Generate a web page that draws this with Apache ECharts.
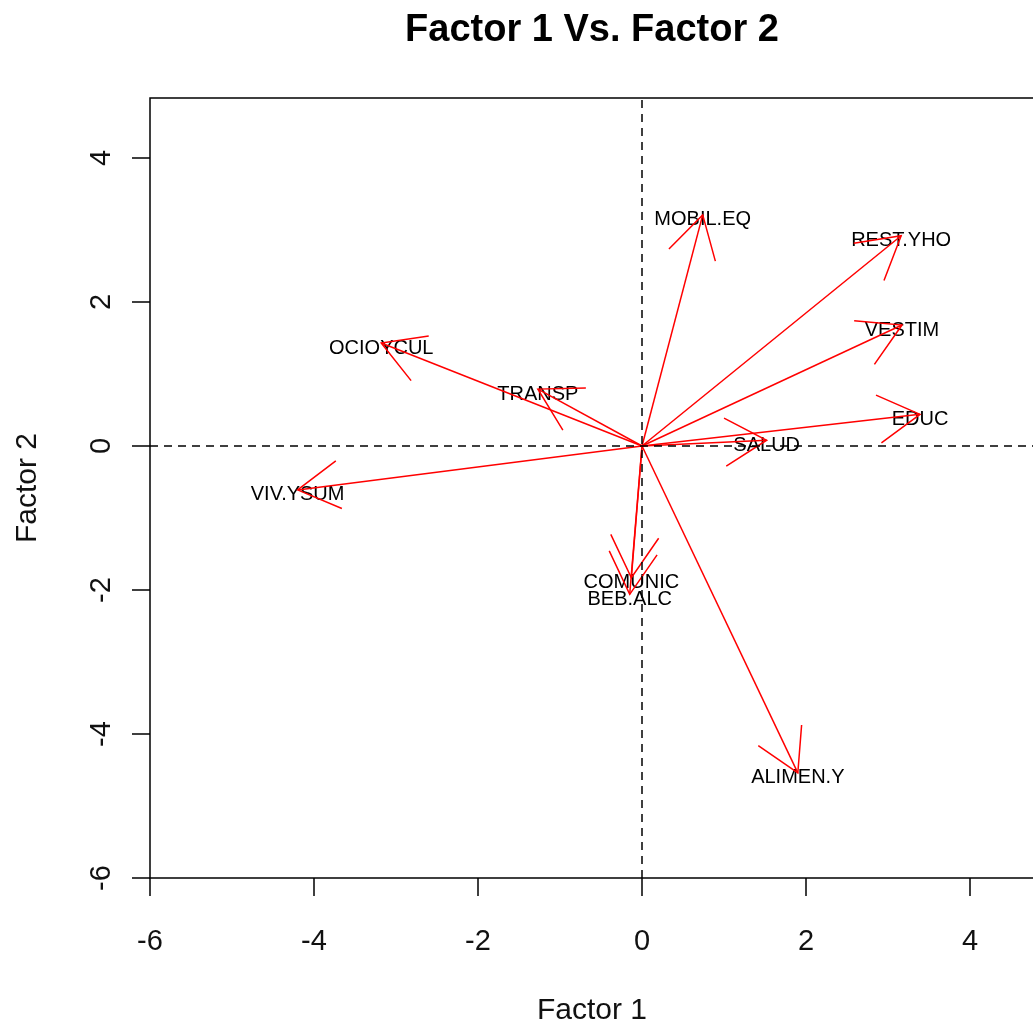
<!DOCTYPE html>
<html>
<head>
<meta charset="utf-8">
<script src="https://cdn.jsdelivr.net/npm/echarts@6/dist/echarts.min.js"></script>
<style>
  html, body { margin: 0; padding: 0; background: #fff; }
  #chart { width: 1033px; height: 1025px; }
</style>
</head>
<body>
<div id="chart"></div>
<script>
// Variable loadings on the first two factors
const variables = ['MOBIL.EQ', 'REST.YHO', 'VESTIM', 'EDUC', 'SALUD', 'OCIOYCUL',
                   'TRANSP', 'VIV.YSUM', 'COMUNIC', 'BEB.ALC', 'ALIMEN.Y'];
const factor1 = [0.74, 3.16, 3.17, 3.39, 1.52, -3.18, -1.27, -4.20, -0.13, -0.15, 1.90];
const factor2 = [3.21, 2.92, 1.68, 0.44, 0.08, 1.43, 0.79, -0.61, -1.83, -2.06, -4.54];

const xTicks = [-6, -4, -2, 0, 2, 4];
const yTicks = [-6, -4, -2, 0, 2, 4];

const FONT = '"Liberation Sans", Arial, sans-serif';
const points = variables.map((name, i) => [factor1[i], factor2[i], name]);

const HEAD_LEN = 48;
const HEAD_ANGLE = Math.PI / 6;

function renderArrow(params, api) {
  const o = api.coord([0, 0]);
  const t = api.coord([api.value(0), api.value(1)]);
  const ang = Math.atan2(o[1] - t[1], o[0] - t[0]);
  const h1 = [t[0] + HEAD_LEN * Math.cos(ang + HEAD_ANGLE), t[1] + HEAD_LEN * Math.sin(ang + HEAD_ANGLE)];
  const h2 = [t[0] + HEAD_LEN * Math.cos(ang - HEAD_ANGLE), t[1] + HEAD_LEN * Math.sin(ang - HEAD_ANGLE)];
  const style = { stroke: '#ff0000', lineWidth: 1.5, fill: null };
  return {
    type: 'group',
    children: [
      { type: 'line', shape: { x1: o[0], y1: o[1], x2: t[0], y2: t[1] }, style: style },
      { type: 'polyline', shape: { points: [h1, t, h2] }, style: style }
    ]
  };
}

function renderLabel(params, api) {
  const t = api.coord([api.value(0), api.value(1)]);
  return {
    type: 'text',
    x: t[0],
    y: t[1] + 5,
    style: {
      text: variables[params.dataIndex],
      align: 'center',
      verticalAlign: 'middle',
      font: '20px ' + FONT,
      fill: '#000'
    }
  };
}

const chart = echarts.init(document.getElementById('chart'), null, { renderer: 'canvas' });

chart.setOption({
  animation: false,
  backgroundColor: '#fff',
  graphic: [{
    type: 'text',
    x: 592,
    y: 31,
    style: {
      text: 'Factor 1 Vs. Factor 2',
      align: 'center',
      verticalAlign: 'middle',
      font: 'bold 38px ' + FONT,
      fill: '#000'
    }
  }],
  grid: {
    left: 150,
    top: 98,
    right: -1,
    bottom: 147,
    outerBoundsMode: 'none',
    show: true,
    borderColor: '#000',
    borderWidth: 1.5,
    backgroundColor: 'transparent'
  },
  xAxis: {
    type: 'value',
    min: -6,
    max: 4.78,
    name: 'Factor 1',
    nameLocation: 'middle',
    nameGap: 118,
    nameTextStyle: { fontFamily: FONT, fontSize: 30, color: '#111' },
    axisLine: { show: false, onZero: false },
    splitLine: { show: false },
    axisTick: {
      show: true, inside: false, length: 18, customValues: xTicks,
      lineStyle: { color: '#000', width: 1.5 }
    },
    axisLabel: {
      customValues: xTicks, margin: 49,
      fontFamily: FONT, fontSize: 29, color: '#111'
    }
  },
  yAxis: {
    type: 'value',
    min: -6,
    max: 4.833,
    name: 'Factor 2',
    nameLocation: 'middle',
    nameGap: 107,
    nameTextStyle: { fontFamily: FONT, fontSize: 30, color: '#111' },
    axisLine: { show: false, onZero: false },
    splitLine: { show: false },
    axisTick: {
      show: true, inside: false, length: 18, customValues: yTicks,
      lineStyle: { color: '#000', width: 1.5 }
    },
    axisLabel: {
      customValues: yTicks, rotate: 90, margin: 34,
      fontFamily: FONT, fontSize: 29, color: '#111'
    }
  },
  series: [
    {
      name: 'labels',
      type: 'custom',
      renderItem: renderLabel,
      data: points,
      z: 2,
      markLine: {
        silent: true,
        symbol: ['none', 'none'],
        label: { show: false },
        lineStyle: { color: '#000', type: [8, 6], width: 1.5 },
        data: [{ xAxis: 0 }, { yAxis: 0 }]
      }
    },
    {
      name: 'arrows',
      type: 'custom',
      renderItem: renderArrow,
      data: points,
      z: 3
    }
  ]
});
</script>
</body>
</html>
